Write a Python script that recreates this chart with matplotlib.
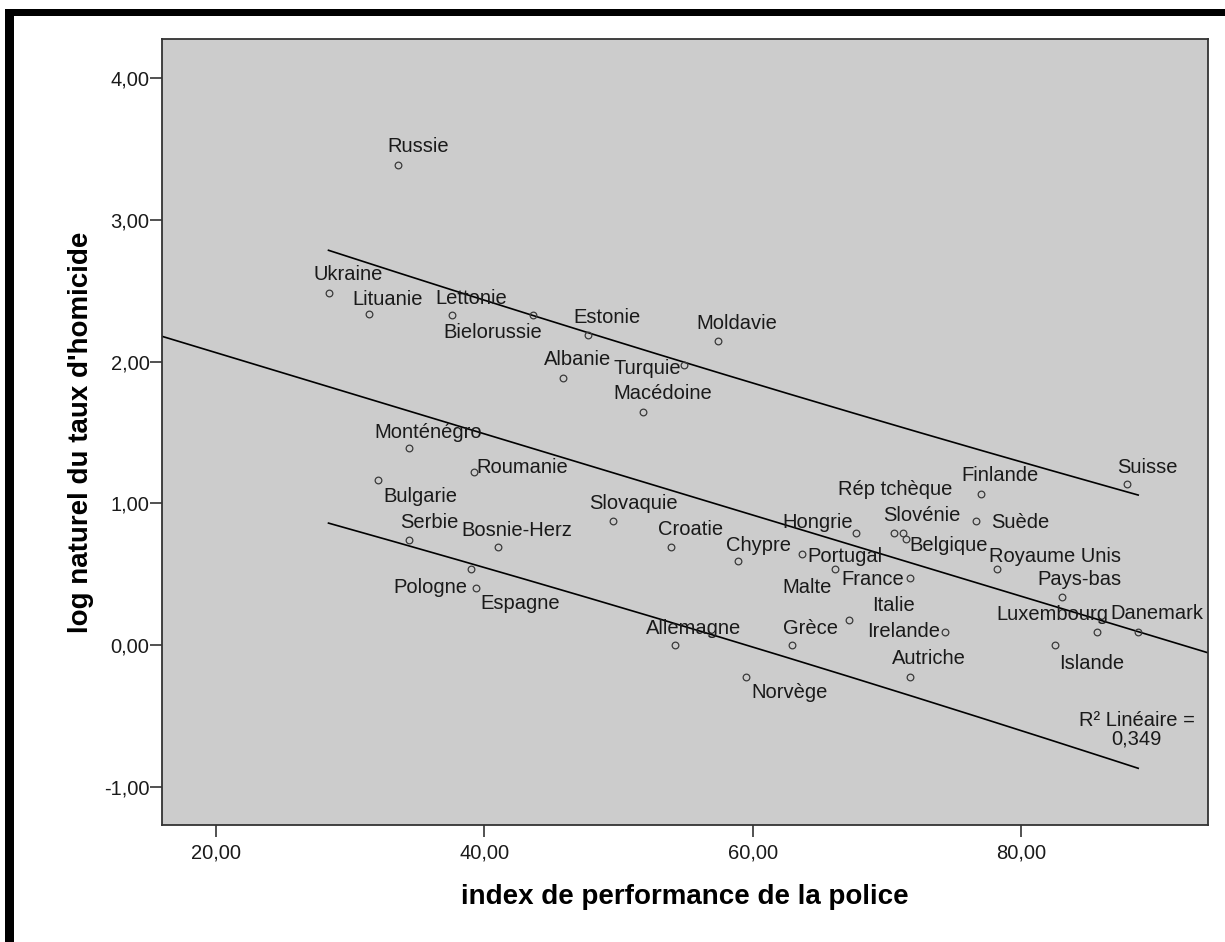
import numpy as np
import matplotlib
matplotlib.use("Agg")
import matplotlib.pyplot as plt
from matplotlib.patches import Rectangle

plt.rcParams['font.family'] = ['Liberation Sans', 'DejaVu Sans']

# ---------------- data ----------------
countries = ["Russie", "Ukraine", "Lituanie", "Lettonie", "Bielorussie", "Estonie",
             "Moldavie", "Albanie", "Turquie", "Macédoine", "Monténégro", "Roumanie",
             "Bulgarie", "Slovaquie", "Serbie", "Bosnie-Herz", "Croatie", "Chypre",
             "Pologne", "Espagne", "Hongrie", "Portugal", "Malte", "France",
             "Rép tchèque", "Slovénie", "Belgique", "Finlande", "Suède", "Suisse",
             "Royaume Unis", "Pays-bas", "Luxembourg", "Danemark", "Islande", "Italie",
             "Irelande", "Grèce", "Allemagne", "Autriche", "Norvège"]
police_index = [33.6, 28.4, 31.4, 37.6, 43.6, 47.7,
                57.4, 45.9, 54.9, 51.8, 34.4, 39.2,
                32.1, 49.6, 34.4, 41.0, 53.9, 58.9,
                39.0, 39.4, 67.7, 63.7, 66.1, 71.7,
                70.5, 71.2, 71.4, 77.0, 76.6, 87.9,
                78.2, 83.0, 85.6, 88.7, 82.5, 67.2,
                74.3, 62.9, 54.2, 71.7, 59.5]
log_homicide = [3.39, 2.485, 2.335, 2.33, 2.33, 2.19,
                2.145, 1.885, 1.975, 1.645, 1.39, 1.22,
                1.165, 0.875, 0.74, 0.69, 0.69, 0.59,
                0.535, 0.405, 0.79, 0.64, 0.535, 0.47,
                0.79, 0.79, 0.745, 1.065, 0.875, 1.135,
                0.535, 0.34, 0.095, 0.095, 0.0, 0.18,
                0.095, 0.0, 0.0, -0.225, -0.225]
x_ticks = [20, 40, 60, 80]
y_ticks = [-1, 0, 1, 2, 3, 4]
r2_label = "R² Linéaire =\n0,349"
# residual standard error used by the chart's interval lines
interval_se = 0.455
t_crit = 2.0227  # t(0.975, 39)

# label placement: offset of label centre from point, in pixels (right, down)
label_offsets = {
    "Russie": (20, -18), "Ukraine": (20, -18), "Lituanie": (19, -15), "Lettonie": (19, -16),
    "Bielorussie": (-40, 18), "Estonie": (19, -17), "Moldavie": (19, -18), "Albanie": (14, -18),
    "Turquie": (-37, 3), "Macédoine": (20, -18), "Monténégro": (19, -16), "Roumanie": (49, -5),
    "Bulgarie": (42, 17), "Slovaquie": (20, -18), "Serbie": (20, -18), "Bosnie-Herz": (19, -17),
    "Croatie": (20, -18), "Chypre": (20, -16), "Pologne": (-40, 18), "Espagne": (44, 16),
    "Hongrie": (-39, -11), "Portugal": (42, 2), "Malte": (-28, 18), "France": (-37, 1),
    "Rép tchèque": (1, -44), "Slovénie": (19, -18), "Belgique": (43, 6), "Finlande": (19, -19),
    "Suède": (45, 1), "Suisse": (20, -17), "Royaume Unis": (58, -13), "Pays-bas": (18, -17),
    "Luxembourg": (-44, -17), "Danemark": (19, -18), "Islande": (37, 18), "Italie": (44, -14),
    "Irelande": (-41, 0), "Grèce": (19, -17), "Allemagne": (19, -17), "Autriche": (19, -18),
    "Norvège": (43, 16),
}

x = np.array(police_index)
y = np.array(log_homicide)

# ---------------- figure ----------------
W, H, DPI = 1225, 942, 100
fig = plt.figure(figsize=(W / DPI, H / DPI), dpi=DPI)
fig.patch.set_facecolor("white")

# thick black frame (top and left)
fig.patches.append(Rectangle((5 / W, 0), 9 / W, 1 - 9 / H, transform=fig.transFigure,
                             facecolor="black", edgecolor="none"))
fig.patches.append(Rectangle((5 / W, 1 - 16 / H), 1, 7 / H, transform=fig.transFigure,
                             facecolor="black", edgecolor="none"))

ax = fig.add_axes([162 / W, 1 - 825 / H, (1208 - 162) / W, (825 - 39) / H])
ax.set_facecolor("#cccccc")
ax.set_xlim(16.0, 93.9)
ax.set_ylim(-1.27, 4.277)

# regression + prediction interval
coef = np.polyfit(x, y, 1)
n = len(x)
xm = x.mean()
sxx = np.sum((x - xm) ** 2)

xf = np.linspace(16.0, 93.9, 200)
ax.plot(xf, np.polyval(coef, xf), color="black", lw=1.2, zorder=2)
xc = np.linspace(x.min(), x.max(), 200)
half = t_crit * interval_se * np.sqrt(1 + 1 / n + (xc - xm) ** 2 / sxx)
ax.plot(xc, np.polyval(coef, xc) + half, color="black", lw=1.2, zorder=2)
ax.plot(xc, np.polyval(coef, xc) - half, color="black", lw=1.2, zorder=2)

ax.plot(x, y, linestyle="none", marker="o", markersize=4.8, mfc="none",
        mec="#3a3a3a", mew=0.9, zorder=3)

for name, xi, yi in zip(countries, police_index, log_homicide):
    dx, dy = label_offsets[name]
    ax.annotate(name, (xi, yi), xytext=(dx * 0.72, -dy * 0.72), textcoords="offset points",
                ha="center", va="center", fontsize=14.5, color="#1a1a1a", zorder=4)

ax.text(0.932, 0.1215, r2_label, transform=ax.transAxes, ha="center", va="center",
        fontsize=14.5, color="#1a1a1a", linespacing=0.95)

ax.set_xticks(x_ticks)
ax.set_xticklabels([f"{v:.2f}".replace(".", ",") for v in x_ticks])
ax.set_yticks(y_ticks)
ax.set_yticklabels([f"{v:.2f}".replace(".", ",") for v in y_ticks])
ax.tick_params(axis="both", direction="out", length=8.5, width=1.1, color="#222222",
               labelsize=14.5, labelcolor="#1a1a1a")
ax.tick_params(axis="y", pad=0.5)
ax.tick_params(axis="x", pad=4.5)
for sp in ax.spines.values():
    sp.set_color("#333333")
    sp.set_linewidth(1.3)

ax.set_xlabel("index de performance de la police", fontsize=20, fontweight="bold",
              labelpad=16, color="black")
ax.set_ylabel("log naturel du taux d'homicide", fontsize=20, fontweight="bold",
              labelpad=7, color="black")

fig.savefig("out.png", dpi=DPI)
